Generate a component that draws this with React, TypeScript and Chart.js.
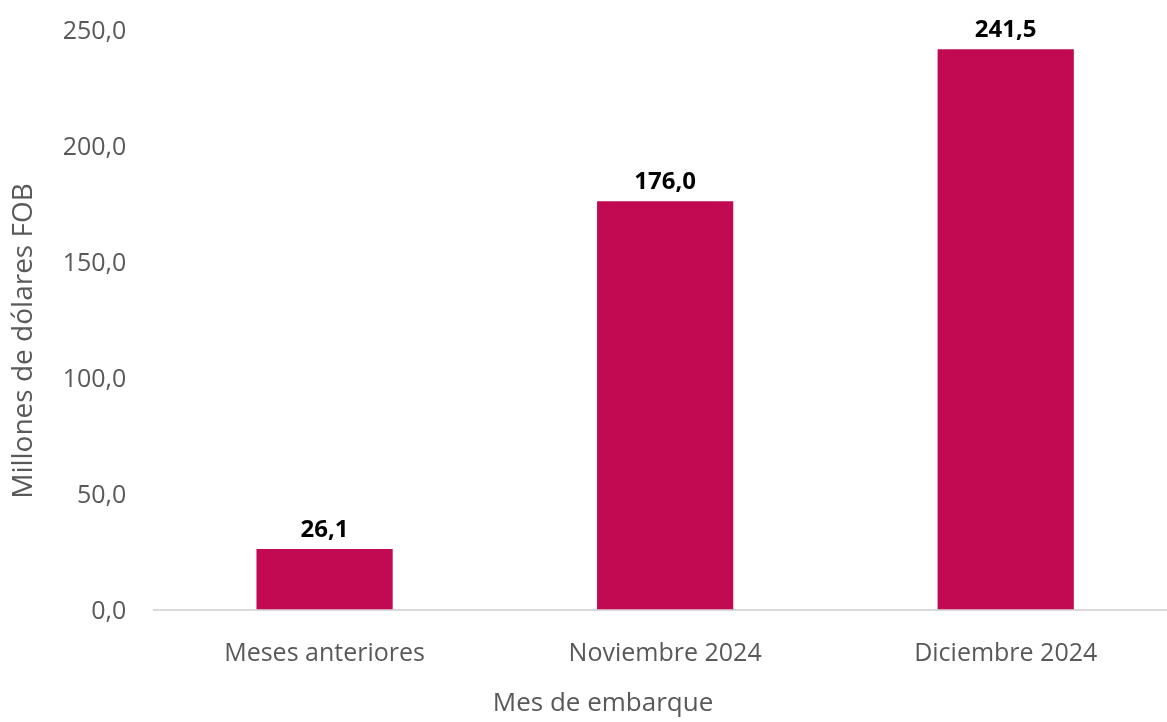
import React, { useEffect, useRef } from "react";
import { Chart, registerables } from "chart.js";

Chart.register(...registerables);

const categories = ["Meses anteriores", "Noviembre 2024", "Diciembre 2024"];
const values = [26.1, 176.0, 241.5];
const yTicks = [0, 50, 100, 150, 200, 250];
const xTitle = "Mes de embarque";
const yTitle = "Millones de dólares FOB";

const BAR_COLOR = "#C20A53";
const TEXT_COLOR = "#595959";
const FONT = "'Open Sans', 'Noto Sans', sans-serif";

const fmt = (v: number) => v.toFixed(1).replace(".", ",");

const labelPlugin = {
  id: "barLabels",
  afterDatasetsDraw(chart: any) {
    const ctx = chart.ctx;
    const meta = chart.getDatasetMeta(0);
    ctx.save();
    ctx.font = `bold 24px ${FONT}`;
    ctx.fillStyle = "#000000";
    ctx.textAlign = "center";
    ctx.textBaseline = "middle";
    meta.data.forEach((bar: any, i: number) => {
      ctx.fillText(fmt(values[i]), bar.x, bar.y - 19);
    });
    ctx.restore();
  },
};

const titlesPlugin = {
  id: "axisTitles",
  afterDraw(chart: any) {
    const ctx = chart.ctx;
    ctx.save();
    ctx.fillStyle = TEXT_COLOR;
    ctx.textAlign = "center";
    ctx.textBaseline = "middle";
    ctx.font = `26px ${FONT}`;
    ctx.fillText(xTitle, 603, 704);
    ctx.translate(24, 341);
    ctx.rotate(-Math.PI / 2);
    ctx.font = `28px ${FONT}`;
    ctx.fillText(yTitle, 0, 0);
    ctx.restore();
  },
};

export default function App() {
  const ref = useRef<HTMLCanvasElement | null>(null);
  useEffect(() => {
    if (!ref.current) return;
    const chart = new Chart(ref.current, {
      type: "bar",
      data: {
        labels: categories,
        datasets: [
          {
            data: values,
            backgroundColor: BAR_COLOR,
            borderWidth: 0,
            barPercentage: 0.4,
            categoryPercentage: 1,
          },
        ],
      },
      options: {
        animation: false,
        responsive: false,
        devicePixelRatio: 1,
        layout: { padding: { top: 29.5, left: 0, right: 0, bottom: 0 } },
        plugins: {
          legend: { display: false },
          tooltip: { enabled: false },
        },
        scales: {
          x: {
            grid: { display: false, drawTicks: false },
            border: { display: true, color: "#D9D9D9", width: 2 },
            ticks: {
              color: TEXT_COLOR,
              font: { family: FONT, size: 25 },
              padding: 29,
              maxRotation: 0,
              autoSkip: false,
            },
            title: { display: false },
            afterFit: (scale: any) => {
              scale.height = 112.5;
              scale.paddingLeft = 0;
              scale.paddingRight = 0;
            },
          },
          y: {
            min: 0,
            max: 250,
            grid: { display: false, drawTicks: false },
            border: { display: false },
            afterBuildTicks: (scale: any) => {
              scale.ticks = yTicks.map((v) => ({ value: v }));
            },
            ticks: {
              color: TEXT_COLOR,
              font: { family: FONT, size: 25 },
              padding: 28,
              labelOffset: 2.5,
              callback: (v: any) => fmt(Number(v)),
            },
            title: { display: false },
            afterFit: (scale: any) => {
              scale.width = 154.3;
              scale.paddingTop = 0;
              scale.paddingBottom = 0;
            },
          },
        },
      },
      plugins: [labelPlugin, titlesPlugin],
    });
    return () => chart.destroy();
  }, []);

  return (
    <div
      style={{
        position: "absolute",
        left: 0,
        top: 0,
        width: 1167,
        height: 722,
        overflow: "hidden",
        background: "#ffffff",
      }}
    >
      <canvas ref={ref} width={1176} height={722} style={{ display: "block" }} />
    </div>
  );
}
